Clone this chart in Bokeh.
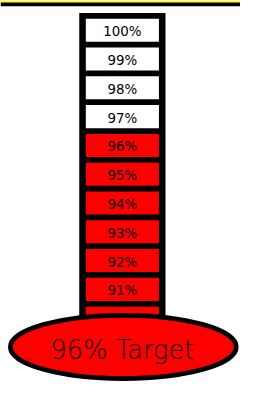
from bokeh.plotting import figure
from bokeh.models import Range1d, ColumnDataSource
from bokeh.core.properties import value
from bokeh.embed import file_html
from bokeh.resources import INLINE

# ---- data ----
levels = [100, 99, 98, 97, 96, 95, 94, 93, 92, 91, 90]
level_labels = ["100%", "99%", "98%", "97%", "96%", "95%", "94%", "93%", "92%", "91%", "90%"]
target = 96
target_label = "96% Target"
bulb_level = 89

colors = ["#ff0000" if v <= target else "#ffffff" for v in levels]
src = ColumnDataSource(dict(y=levels, label=level_labels, color=colors, x=[0] * len(levels)))

W, H = 240, 381
# design space: 256 x 397 "units", x centred on the column, y in percent (30 units per percent)
u = 30.0
top_v = 100 + 31 / u
bot_v = 100 - 366 / u

p = figure(width=W, height=H, output_backend="svg", toolbar_location=None,
           x_range=Range1d(-130, 126), y_range=Range1d(bot_v, top_v),
           min_border=0, background_fill_color="white", border_fill_color="white")
p.axis.visible = False
p.grid.visible = False
p.outline_line_color = None

# top band
p.quad(left=-130, right=126, top=top_v, bottom=top_v - 2 / u, fill_color="#ffff00", line_color=None)
p.quad(left=-130, right=126, top=top_v - 2 / u, bottom=top_v - 6 / u, fill_color="#000000", line_color=None)

# thermometer column
p.quad(left=-46, right=46, top=levels[0] + 18 / u, bottom=bulb_level, fill_color="#000000", line_color=None)

# level boxes
p.rect(x="x", y="y", width=78, height=24 / u, fill_color="color", line_color=None, source=src)
p.text(x="x", y="y", text="label", source=src, text_align="center", text_baseline="middle",
       y_offset=1.5, text_font=value("DejaVu Sans"), text_font_size="13.4px", text_color="#000000")

# bulb
p.ellipse(x=[1], y=[bulb_level], width=241, height=66 / u,
          fill_color="#ff0000", line_color="#000000", line_width=4.7)
p.text(x=[0], y=[bulb_level], text=[target_label], text_align="center", text_baseline="middle",
       y_offset=3, text_font=value("DejaVu Sans Light"), text_font_size="25.7px",
       text_color="#000000")

open("out.html", "w").write(file_html(p, INLINE))
